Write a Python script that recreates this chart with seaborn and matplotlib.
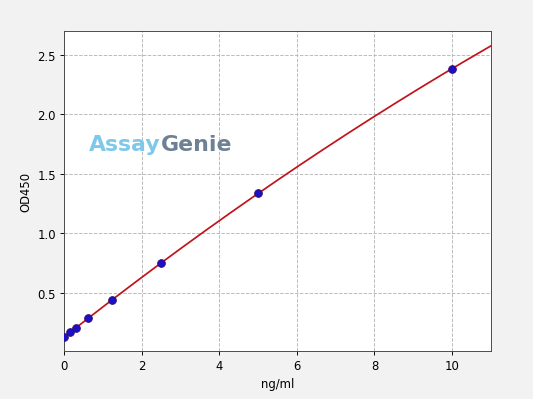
import matplotlib
matplotlib.use("Agg")
import matplotlib.pyplot as plt
import seaborn as sns
import numpy as np
import pandas as pd

# standard curve points
conc = [0, 0.156, 0.3125, 0.625, 1.25, 2.5, 5, 10]
od450 = [0.13, 0.168, 0.204, 0.285, 0.438, 0.752, 1.336, 2.385]

pts = pd.DataFrame({"ng/ml": conc, "OD450": od450})

# fitted curve through the standards
coef = np.polyfit(conc, od450, 2)
xfit = np.linspace(0, 11, 200)
fit = pd.DataFrame({"ng/ml": xfit, "OD450": np.polyval(coef, xfit)})

fig = plt.figure(figsize=(6.4, 4.8), dpi=100)
fig.patch.set_facecolor("#f2f2f2")
ax = fig.add_subplot(111)
fig.subplots_adjust(left=0.12, right=0.921, top=0.92, bottom=0.12)

sns.lineplot(data=fit, x="ng/ml", y="OD450", color="#c0141c", linewidth=1.5, ax=ax)
sns.scatterplot(data=pts, x="ng/ml", y="OD450", color="#1a10c8", edgecolor="#3a0a6a",
                s=44, linewidth=0.8, zorder=3, ax=ax)

ax.set_xlim(0, 11)
ax.set_ylim(0.01, 2.7)
ax.set_yticks([0.5, 1.0, 1.5, 2.0, 2.5])
ax.grid(True, color="#b8b8b8", linestyle="--", linewidth=0.8)
ax.set_axisbelow(True)
for s in ax.spines.values():
    s.set_color("#444444")

# watermark
ax.text(0.058, 0.647, "Assay", transform=ax.transAxes, color="#7fc8ea",
        fontsize=19, fontweight="bold", va="center", ha="left", zorder=1)
ax.text(0.226, 0.647, "Genie", transform=ax.transAxes, color="#6e8194",
        fontsize=19, fontweight="bold", va="center", ha="left", zorder=1)

fig.savefig("out.png", dpi=533 / 6.4, facecolor=fig.get_facecolor())
